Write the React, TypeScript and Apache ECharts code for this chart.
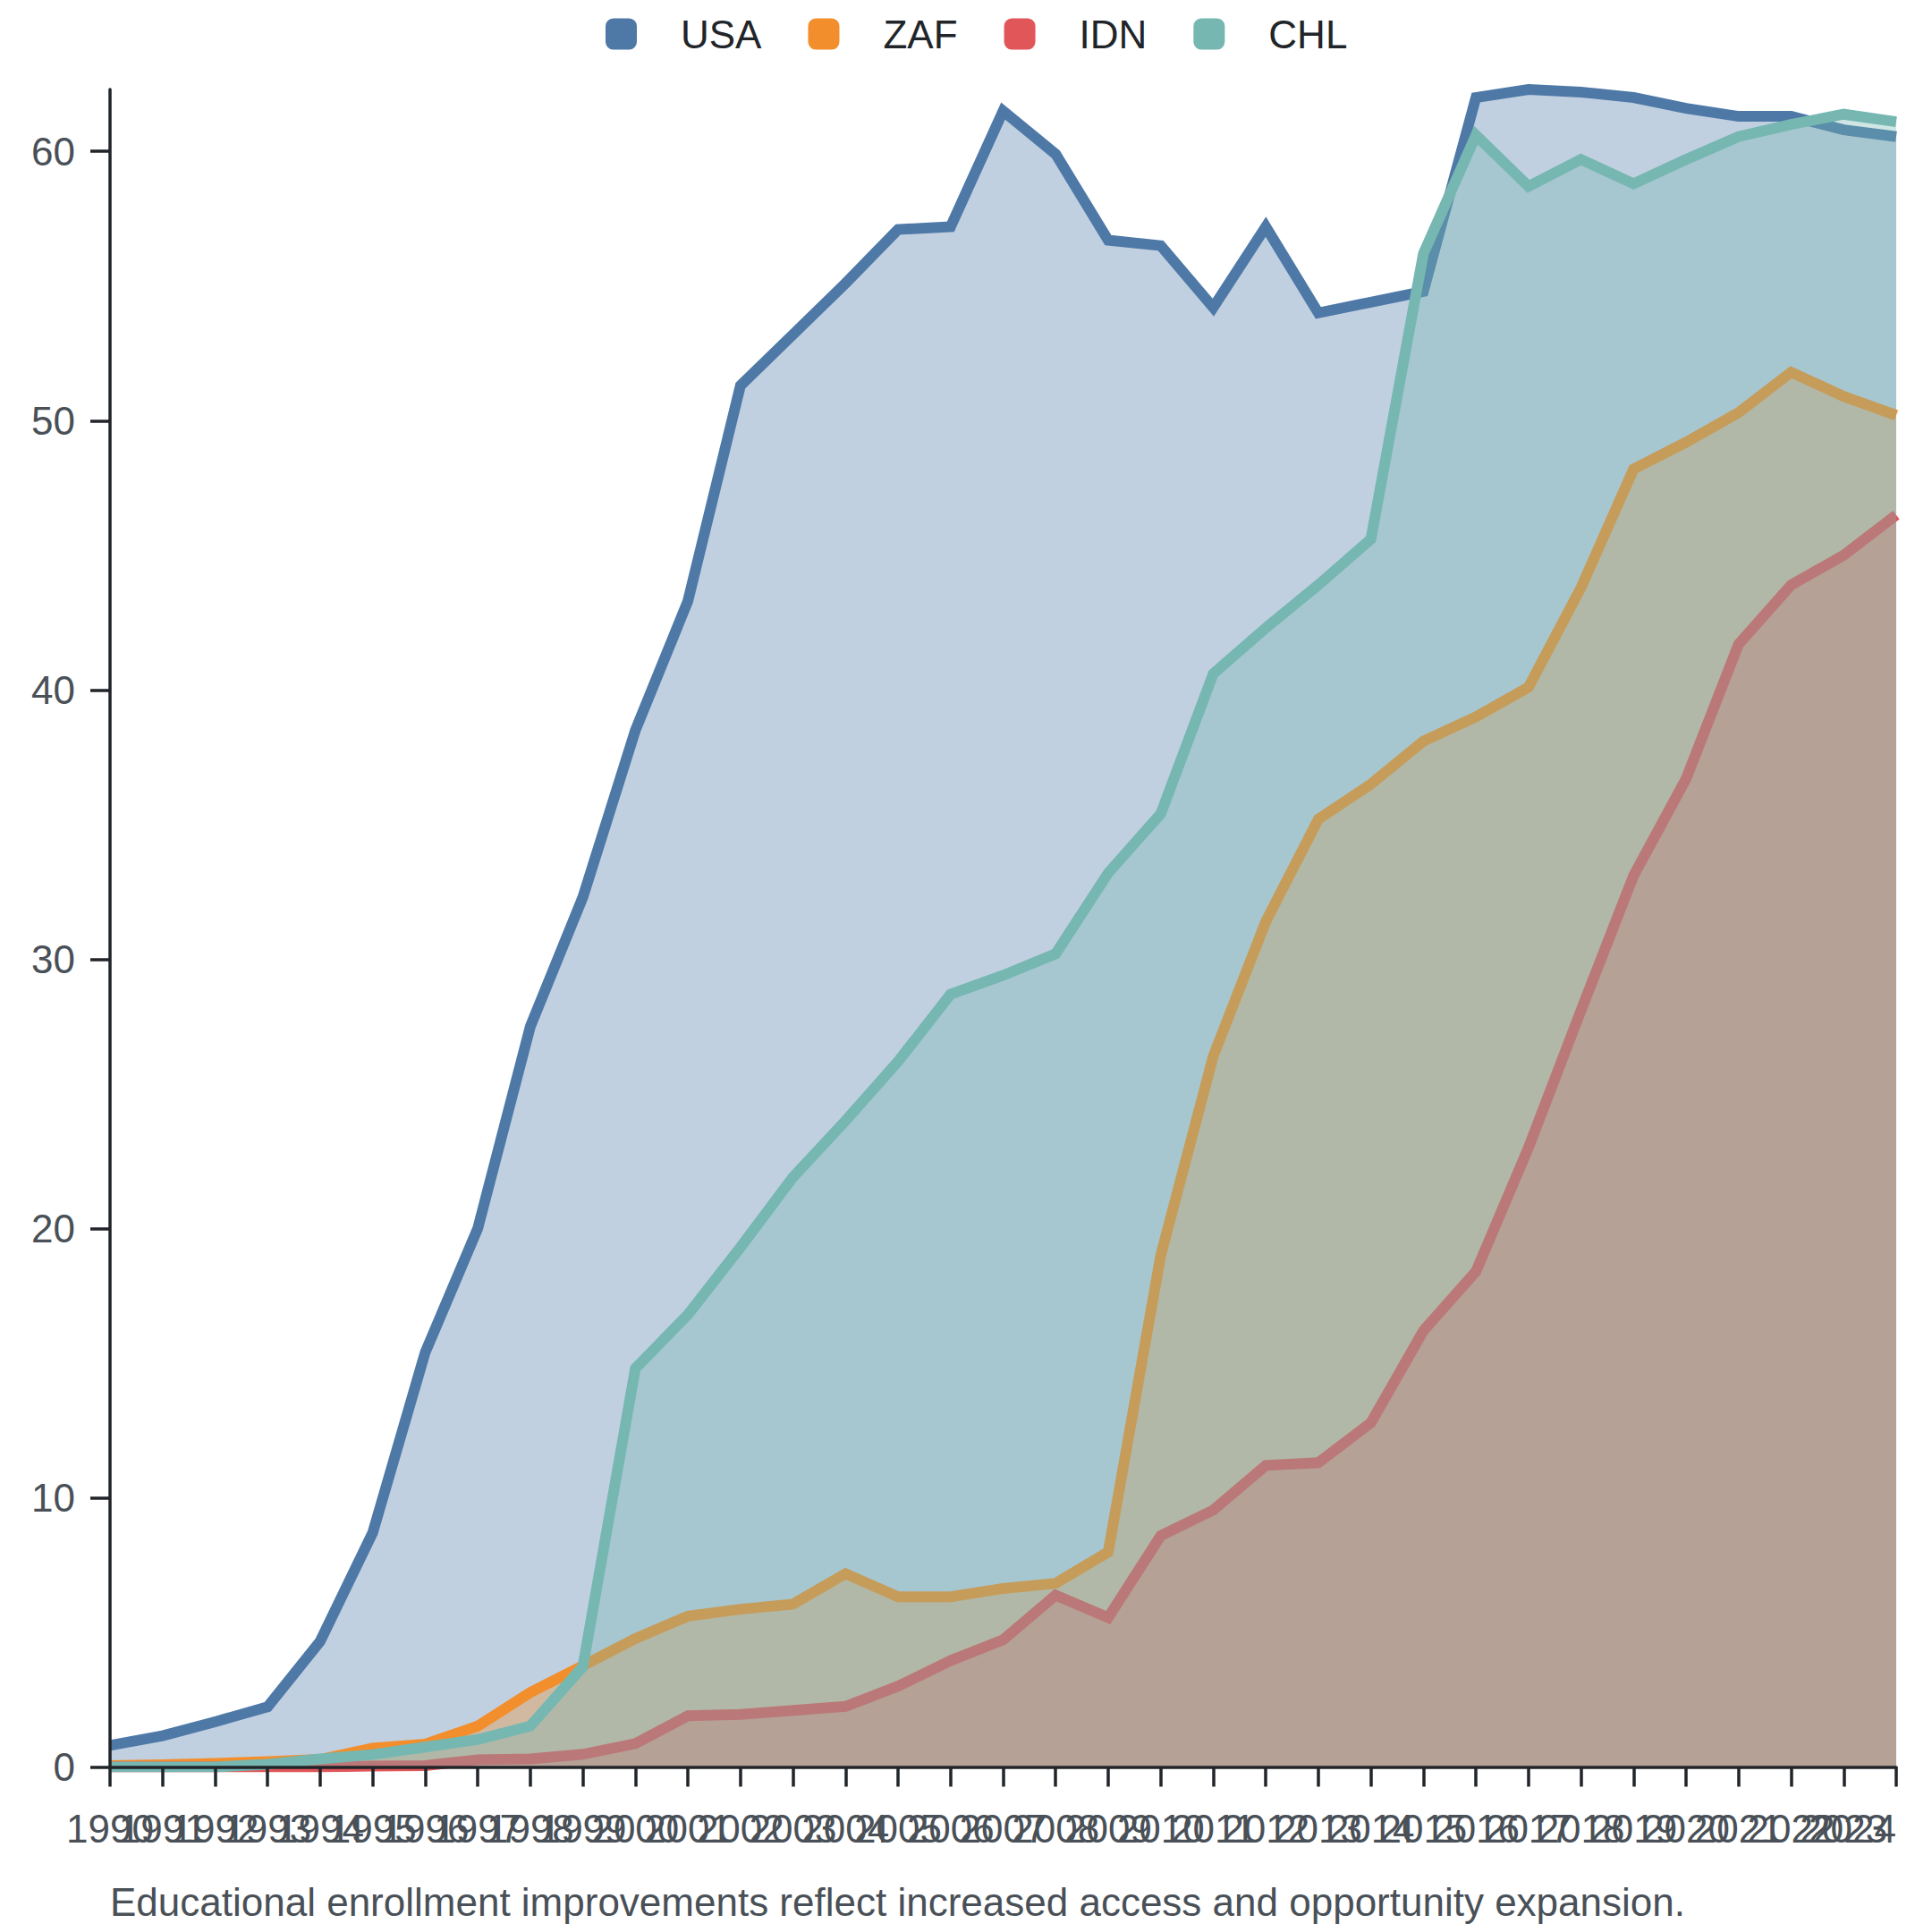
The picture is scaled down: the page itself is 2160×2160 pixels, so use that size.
import React, { useEffect, useRef } from "react";
import * as echarts from "echarts";

const years = [
  "1990","1991","1992","1993","1994","1995","1996","1997","1998","1999",
  "2000","2001","2002","2003","2004","2005","2006","2007","2008","2009",
  "2010","2011","2012","2013","2014","2015","2016","2017","2018","2019",
  "2020","2021","2022","2023","2024",
];

const usa = [
  0.8, 1.16, 1.68, 2.23, 4.67, 8.7, 15.4, 20.0, 27.5, 32.3,
  38.5, 43.3, 51.3, 53.2, 55.1, 57.1, 57.2, 61.5, 59.9, 56.7,
  56.5, 54.2, 57.2, 54.0, 54.4, 54.8, 62.0, 62.3, 62.2, 62.0,
  61.6, 61.3, 61.3, 60.8, 60.55,
];

const zaf = [
  0.05, 0.08, 0.13, 0.2, 0.28, 0.7, 0.85, 1.52, 2.77, 3.76,
  4.77, 5.6, 5.86, 6.05, 7.18, 6.32, 6.32, 6.63, 6.82, 7.98,
  19.0, 26.4, 31.4, 35.2, 36.5, 38.1, 39.0, 40.1, 43.8, 48.2,
  49.2, 50.3, 51.8, 50.9, 50.2,
];

const idn = [
  0, 0, 0, 0, 0, 0.03, 0.05, 0.27, 0.3, 0.47,
  0.87, 1.9, 1.95, 2.1, 2.25, 3.0, 3.95, 4.72, 6.38, 5.55,
  8.59, 9.54, 11.2, 11.3, 12.78, 16.2, 18.4, 23.0, 28.1, 33.1,
  36.7, 41.7, 43.9, 45.0, 46.5,
];

const chl = [
  0, 0, 0, 0.1, 0.3, 0.46, 0.74, 1.02, 1.52, 3.73,
  14.8, 16.8, 19.3, 21.9, 24.0, 26.2, 28.7, 29.4, 30.2, 33.2,
  35.4, 40.6, 42.3, 43.9, 45.6, 56.2, 60.6, 58.7, 59.7, 58.8,
  59.7, 60.55, 61.0, 61.38, 61.1,
];

const seriesNames = ["USA", "ZAF", "IDN", "CHL"];
const seriesColors = ["#4e79a7", "#f28e2b", "#e15759", "#76b7b2"];
const yTicks = [0, 10, 20, 30, 40, 50, 60];
const caption =
  "Educational enrollment improvements reflect increased access and opportunity expansion.";

const FONT = "'Liberation Sans', Arial, Helvetica, sans-serif";

export default function App() {
  const ref = useRef<HTMLDivElement>(null);

  useEffect(() => {
    if (!ref.current) return;
    const chart = echarts.init(ref.current, undefined, { renderer: "svg" });
    const datasets = [usa, zaf, idn, chl];
    const allMax = Math.max(...datasets.flat());

    chart.setOption({
      animation: false,
      backgroundColor: "#ffffff",
      color: seriesColors,
      textStyle: { fontFamily: FONT },
      legend: {
        show: true,
        top: 11,
        left: 672,
        icon: "roundRect",
        itemWidth: 35,
        itemHeight: 35,
        itemGap: 52,
        data: seriesNames,
        textStyle: {
          fontFamily: FONT,
          fontSize: 44,
          color: "#212529",
          padding: [0, 0, 0, 44],
        },
      },
      grid: {
        left: 123,
        right: 40,
        top: 100,
        bottom: 184.5,
        containLabel: false,
      },
      xAxis: {
        type: "category",
        data: years,
        boundaryGap: false,
        z: 10,
        axisLine: { show: true, lineStyle: { color: "#212529", width: 3.5 } },
        axisTick: {
          show: true,
          alignWithLabel: true,
          interval: 0,
          length: 22,
          lineStyle: { color: "#212529", width: 3.5 },
        },
        axisLabel: {
          interval: 0,
          hideOverlap: false,
          margin: 47,
          fontSize: 44,
          fontFamily: FONT,
          color: "#495057",
          alignMaxLabel: "right",
        },
        splitLine: { show: false },
      },
      yAxis: {
        type: "value",
        min: 0,
        max: allMax,
        interval: 10,
        z: 10,
        axisLine: { show: true, lineStyle: { color: "#212529", width: 3.5 } },
        axisTick: {
          show: true,
          length: 22,
          customValues: yTicks,
          lineStyle: { color: "#212529", width: 3.5 },
        },
        axisLabel: {
          margin: 39,
          fontSize: 44,
          fontFamily: FONT,
          color: "#495057",
          customValues: yTicks,
        },
        splitLine: { show: false },
      },
      series: datasets.map((d, i) => ({
        name: seriesNames[i],
        type: "line",
        data: d,
        z: 2 + i,
        showSymbol: false,
        symbol: "none",
        smooth: false,
        lineStyle: { width: 12, color: seriesColors[i], join: "miter", cap: "butt" },
        itemStyle: { color: seriesColors[i] },
        areaStyle: { color: seriesColors[i], opacity: 0.35 },
        emphasis: { disabled: true },
      })),
      graphic: [
        {
          type: "text",
          left: 123,
          top: 2104,
          style: {
            text: caption,
            fontSize: 44,
            fontFamily: FONT,
            fill: "#495057",
          },
        },
      ],
    });

    return () => {
      chart.dispose();
    };
  }, []);

  return (
    <div
      ref={ref}
      style={{ position: "fixed", left: 0, top: 0, width: 2160, height: 2160 }}
    />
  );
}
